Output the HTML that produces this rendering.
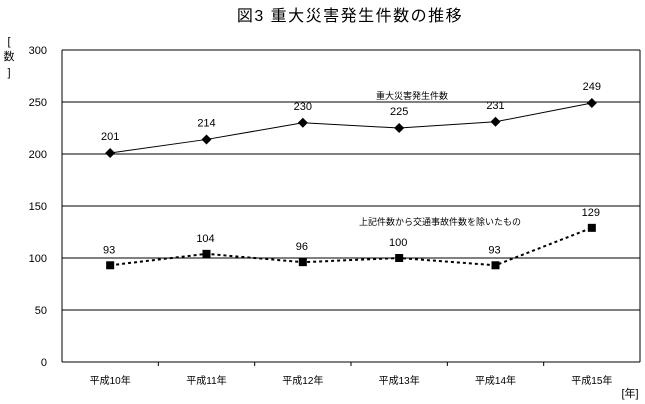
<!DOCTYPE html>
<html><head><meta charset="utf-8"><style>
body{margin:0;background:#fff;}
svg{display:block;font-family:"Liberation Sans","Noto Sans CJK JP",sans-serif;}
</style></head><body>
<svg id="c" width="645" height="404">
<text x="350" y="21" font-size="16" letter-spacing="1.5" text-anchor="middle">図3  重大災害発生件数の推移</text>
<text x="9" y="60" font-size="11" text-anchor="middle"><tspan x="9" y="45">[</tspan><tspan x="9" y="60">数</tspan><tspan x="9" y="76">]</tspan></text>
<text x="630" y="397" font-size="11" text-anchor="middle">[年]</text>
<g id="g"></g>
</svg>
<script>
const categories=["平成10年","平成11年","平成12年","平成13年","平成14年","平成15年"];
const totalValues=[201,214,230,225,231,249];
const excludedValues=[93,104,96,100,93,129];
const yTicks=[0,50,100,150,200,250,300];
const L=62,R=640,T=50,B=362;
const x=i=>L+(R-L)/categories.length*(i+0.5);
const y=v=>B-(B-T)*v/300;
const g=document.getElementById('g');
const NS='http://www.w3.org/2000/svg';
function mk(t,a){const e=document.createElementNS(NS,t);for(const k in a)e.setAttribute(k,a[k]);g.appendChild(e);return e;}
yTicks.forEach(v=>{
 const l=mk('line',{x1:L,x2:R,y1:y(v),y2:y(v),stroke:'#000','stroke-width':1});
 
 
 const t=mk('text',{x:47,y:y(v)+4,'font-size':11,'text-anchor':'end'});t.textContent=v;
 
 
});
let ax=mk('line',{x1:L,x2:L,y1:T,y2:B,stroke:'#000'});


let rx=mk('line',{x1:R,x2:R,y1:T,y2:B,stroke:'#000'});


categories.forEach((c,i)=>{
 const bx=L+(R-L)/categories.length*(i+1);
 if(i<categories.length-1){const tk=mk('line',{x1:bx,x2:bx,y1:B,y2:B+4,stroke:'#000'});
 
 }
 const t=mk('text',{x:x(i),y:B+22,'font-size':10,'text-anchor':'middle'});t.textContent=c;
 
 
});
let p1=mk('polyline',{points:totalValues.map((v,i)=>x(i)+','+y(v)).join(' '),fill:'none',stroke:'#000','stroke-width':1});


let p2=mk('polyline',{points:excludedValues.map((v,i)=>x(i)+','+y(v)).join(' '),fill:'none',stroke:'#000','stroke-width':2,'stroke-dasharray':'3,3'});


totalValues.forEach((v,i)=>{
 const d=mk('polygon',{points:`${x(i)},${y(v)-5} ${x(i)+5},${y(v)} ${x(i)},${y(v)+5} ${x(i)-5},${y(v)}`,fill:'#000'});
 
 
 const t=mk('text',{x:x(i),y:y(v)-13,'font-size':11,'text-anchor':'middle'});t.textContent=v;
 
 
});
excludedValues.forEach((v,i)=>{
 const s=mk('rect',{x:x(i)-4,y:y(v)-4,width:8,height:8,fill:'#000'});
 
 
 const t=mk('text',{x:x(i)-1,y:y(v)-12,'font-size':11,'text-anchor':'middle'});t.textContent=v;
 
 
});
let l1=mk('text',{x:412,y:99,'font-size':9,'text-anchor':'middle'});l1.textContent='重大災害発生件数';


let l2=mk('text',{x:440,y:225,'font-size':9,'text-anchor':'middle'});l2.textContent='上記件数から交通事故件数を除いたもの';


</script>
</body></html>
